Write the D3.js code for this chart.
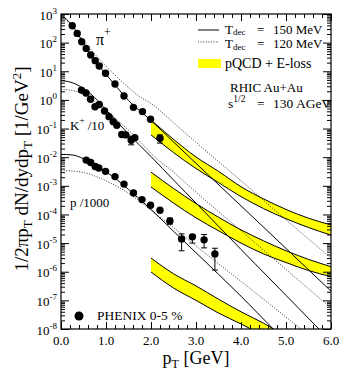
<!DOCTYPE html>
<html>
<head>
<meta charset="utf-8">
<script src="https://cdn.jsdelivr.net/npm/d3@7"></script>
<style>
body{margin:0;background:#fff;}
text{font-family:"Liberation Serif","DejaVu Serif",serif;fill:#000;}
</style>
</head>
<body>
<div id="graph"></div>
<script>
// PHENIX 0-5% data (pi+, K+/10, p/1000)
var pionPt=[0.25,0.36,0.46,0.56,0.66,0.76,0.85,0.99,1.2,1.4,1.61,1.81,1.99,2.2];
var pionY=[390,210,108,63,37,23.5,15.3,8.5,3.6,1.37,0.55,0.39,0.21,0.046];
var pionErr=[null,null,null,null,null,null,null,null,null,null,null,null,null,[0.031,0.06]];

var kaonPt=[0.455,0.556,0.656,0.756,0.85,0.967,1.067,1.16,1.24,1.35,1.44,1.56,1.64];
var kaonY=[2.2,1.75,1.05,0.58,0.69,0.41,0.26,0.174,0.13,0.062,0.06,0.039,0.048];
var kaonErr=[null,null,null,null,null,null,null,null,null,null,null,[0.027,0.052],null];

var protonPt=[0.56,0.66,0.76,0.84,0.99,1.2,1.4,1.61,1.8,1.99,2.2,2.42,2.68,2.92,3.18,3.42];
var protonY=[7.9e-3,6.5e-3,4.7e-3,4.2e-3,3.2e-3,2.1e-3,1.15e-3,5.6e-4,3.3e-4,2.1e-4,1.4e-4,5.9e-5,1.4e-5,1.65e-5,1.3e-5,4.2e-6];
var protonErr=[null,null,null,null,null,null,null,null,null,null,null,[4.6e-5,7.5e-5],[5.4e-6,2.1e-5],[1.0e-5,2.0e-5],[6.8e-6,2.0e-5],[1.14e-6,6.6e-6]];

// hydro curves, Tdec = 150 MeV (solid) and 120 MeV (dotted)
var curvePt=[0,0.25,0.5,0.75,1.0,1.25,1.5,1.75,2.0,2.5,3.0,4.0,5.0,6.0];
var pion150=[950,400,95,24,7.8,2.7,0.95,0.42,0.19,0.034,6.1e-3,2.0e-4,6.5e-6,2.1e-7];
var pion120=[850,370,115,40,15,6.2,2.7,1.3,0.75,0.16,0.033,1.5e-3,6.5e-5,3.0e-6];
var kaon150=[4.7,4.0,2.5,1.2,0.45,0.17,0.064,0.026,0.0105,1.6e-3,2.5e-4,6.0e-6,1.5e-7,3.7e-9];
var kaon120=[2.35,2.15,1.55,0.88,0.45,0.2,0.088,0.036,0.0135,3.0e-3,6.0e-4,2.7e-5,1.2e-6,5.4e-8];
var proton150=[0.0125,0.012,0.0088,0.0054,0.0031,0.0016,7.5e-4,3.4e-4,1.5e-4,2.6e-5,4.6e-6,1.4e-7,3.5e-9,1e-10];
var proton120=[3.4e-3,3.3e-3,2.9e-3,2.2e-3,1.5e-3,9.5e-4,5.5e-4,2.9e-4,1.4e-4,3.5e-5,8.0e-6,4.6e-7,2.6e-8,1.5e-9];

// pQCD + E-loss bands
var bandPt=[2.0,2.5,3.0,3.5,4.0,4.5,5.0,5.5,6.0];
var pionBandHi=[0.2,0.042,0.0102,3.2e-3,9.3e-4,3.5e-4,1.5e-4,7.4e-5,4.3e-5];
var pionBandLo=[0.06,0.0145,4.0e-3,1.3e-3,4.2e-4,1.6e-4,7.1e-5,3.5e-5,1.9e-5];
var kaonBandHi=[3.0e-3,8.1e-4,2.4e-4,8.0e-5,2.9e-5,1.2e-5,5.4e-6,2.7e-6,1.5e-6];
var kaonBandLo=[9.1e-4,2.5e-4,7.6e-5,2.7e-5,1.0e-5,4.2e-6,2.1e-6,1.1e-6,6.8e-7];
var protonBandHi=[3.0e-6,8.5e-7,3.2e-7,1.1e-7,4.0e-8,1.6e-8,5.6e-9,2.4e-9,1e-9];
var protonBandLo=[9.8e-7,2.7e-7,1.0e-7,3.6e-8,1.5e-8,6.0e-9,2.4e-9,1e-9,5e-10];

var xTicks=[0,1,2,3,4,5,6];
var yExps=[3,2,1,0,-1,-2,-3,-4,-5,-6,-7,-8];

var width=342,height=373;
var svg=d3.select('#graph').append('svg').attr('width',width).attr('height',height);

var x=d3.scaleLinear().domain([0,6]).range([61,331]);
var y=d3.scaleLog().domain([1e-8,1e3]).range([329,14]);

svg.append('clipPath').attr('id','plot').append('rect')
  .attr('x',61).attr('y',14).attr('width',270).attr('height',315);
var g=svg.append('g').attr('clip-path','url(#plot)');

function pairs(xs,ys){ return xs.map(function(v,i){ return [v,ys[i]]; }); }

// bands
var area=d3.area().x(function(d){return x(d[0]);}).y0(function(d){return y(d[1]);}).y1(function(d){return y(d[2]);}).curve(d3.curveMonotoneX);
var edge=d3.line().x(function(d){return x(d[0]);}).y(function(d){return y(d[1]);}).curve(d3.curveMonotoneX);
[[pionBandLo,pionBandHi],[kaonBandLo,kaonBandHi],[protonBandLo,protonBandHi]].forEach(function(b){
  var pts=bandPt.map(function(p,i){ return [p,b[0][i],b[1][i]]; });
  g.append('path').attr('d',area(pts)).attr('fill','#ffff00').attr('stroke','none');
  g.append('path').attr('d',edge(pairs(bandPt,b[0]))).attr('fill','none').attr('stroke','#000').attr('stroke-width',1);
  g.append('path').attr('d',edge(pairs(bandPt,b[1]))).attr('fill','none').attr('stroke','#000').attr('stroke-width',1);
});

// hydro curves
[pion150,kaon150,proton150].forEach(function(c){
  g.append('path').attr('d',edge(pairs(curvePt,c))).attr('fill','none').attr('stroke','#000').attr('stroke-width',1);
});
[pion120,kaon120,proton120].forEach(function(c){
  g.append('path').attr('d',edge(pairs(curvePt,c))).attr('fill','none').attr('stroke','#000').attr('stroke-width',0.8).attr('stroke-dasharray','1,1.6');
});

// data
[[pionPt,pionY,pionErr],[kaonPt,kaonY,kaonErr],[protonPt,protonY,protonErr]].forEach(function(s){
  s[0].forEach(function(p,i){
    var e=s[2][i];
    if(e){
      g.append('line').attr('x1',x(p)).attr('x2',x(p)).attr('y1',y(e[0])).attr('y2',y(e[1])).attr('stroke','#000');
      [e[0],e[1]].forEach(function(v){
        g.append('line').attr('x1',x(p)-3).attr('x2',x(p)+3).attr('y1',y(v)).attr('y2',y(v)).attr('stroke','#000');
      });
    }
    g.append('circle').attr('cx',x(p)).attr('cy',y(s[1][i])).attr('r',3.7).attr('fill','#000');
  });
});

// axes
var minorX=d3.range(0,6.01,0.2);
var minorY=[];
for(var k=-8;k<3;k++){ for(var m=2;m<10;m++){ minorY.push(m*Math.pow(10,k)); } }
var majorY=yExps.map(function(e){ return Math.pow(10,e); });

function tickAxis(axis,pos,vals,size){
  var a=svg.append('g').attr('transform',pos).call(axis.tickValues(vals).tickSize(size).tickFormat(''));
  a.select('.domain').remove();
  a.selectAll('line').attr('stroke','#000');
  return a;
}
tickAxis(d3.axisBottom(x),'translate(0,329)',xTicks,-7);
tickAxis(d3.axisBottom(x),'translate(0,329)',minorX,-4);
tickAxis(d3.axisTop(x),'translate(0,14)',xTicks,-7);
tickAxis(d3.axisTop(x),'translate(0,14)',minorX,-4);
tickAxis(d3.axisLeft(y),'translate(61,0)',majorY,-8);
tickAxis(d3.axisLeft(y),'translate(61,0)',minorY,-4);
tickAxis(d3.axisRight(y),'translate(331,0)',majorY,-8);
tickAxis(d3.axisRight(y),'translate(331,0)',minorY,-4);
svg.append('rect').attr('x',61).attr('y',14).attr('width',270).attr('height',315)
  .attr('fill','none').attr('stroke','#000').attr('stroke-width',1.2);

// tick labels
xTicks.forEach(function(t){
  svg.append('text').attr('x',x(t)).attr('y',345).attr('text-anchor','middle')
    .style('font-size','13px').text(t.toFixed(1));
});
yExps.forEach(function(e){
  var t=svg.append('text').attr('x',57).attr('y',y(Math.pow(10,e))+5.5).attr('text-anchor','end').style('font-size','13px');
  t.append('tspan').text('10');
  t.append('tspan').attr('dy',-6).style('font-size','9px').text(e);
});

// axis titles
var yl=svg.append('text').attr('transform','translate(28,169) rotate(-90)').attr('text-anchor','middle').style('font-size','19px');
yl.append('tspan').text('1/2πp');
yl.append('tspan').attr('dy',4).style('font-size','13px').text('T');
yl.append('tspan').attr('dy',-4).text(' dN/dydp');
yl.append('tspan').attr('dy',4).style('font-size','13px').text('T');
yl.append('tspan').attr('dy',-4).text(' [1/GeV');
yl.append('tspan').attr('dy',-7).style('font-size','13px').text('2');
yl.append('tspan').attr('dy',7).text(']');

var xl=svg.append('text').attr('x',196).attr('y',364).attr('text-anchor','middle').style('font-size','18px');
xl.append('tspan').text('p');
xl.append('tspan').attr('dy',4).style('font-size','12px').text('T');
xl.append('tspan').attr('dy',-4).text(' [GeV]');

// species labels
var pl=svg.append('text').attr('x',96).attr('y',45).style('font-size','16px');
pl.append('tspan').text('π');
pl.append('tspan').attr('dy',-9).style('font-size','12px').text('+');
var kl=svg.append('text').attr('x',70).attr('y',130).style('font-size','13px');
kl.append('tspan').text('K');
kl.append('tspan').attr('dy',-7).style('font-size','9px').text('+');
kl.append('tspan').attr('dy',7).text(' /10');
svg.append('text').attr('x',70).attr('y',207).style('font-size','13px').text('p /1000');

// legend
svg.append('line').attr('x1',198).attr('x2',219).attr('y1',30).attr('y2',30).attr('stroke','#000');
svg.append('line').attr('x1',198).attr('x2',219).attr('y1',42).attr('y2',42).attr('stroke','#000').attr('stroke-width',0.8).attr('stroke-dasharray','1,1.6');
svg.append('rect').attr('x',198).attr('y',59).attr('width',23).attr('height',9).attr('fill','#ffff00');
[['150',33.5],['120',48]].forEach(function(r){
  var t=svg.append('text').attr('x',225).attr('y',r[1]).style('font-size','13px');
  t.append('tspan').text('T');
  t.append('tspan').attr('dy',1.5).style('font-size','9px').text('dec');
  t.append('tspan').attr('x',257).attr('dy',-1.5).text('=');
  t.append('tspan').attr('x',273).text(r[0]+' MeV');
});
svg.append('text').attr('x',225).attr('y',68).style('font-size','14px').text('pQCD + E-loss');
svg.append('text').attr('x',230).attr('y',92).style('font-size','13px').text('RHIC Au+Au');
var st=svg.append('text').attr('x',228).attr('y',108).style('font-size','13.5px');
st.append('tspan').text('s');
st.append('tspan').attr('dy',-6).style('font-size','9.5px').text('1/2');
st.append('tspan').attr('x',257).attr('dy',6).text('=');
st.append('tspan').attr('x',273).text('130 AGeV');

svg.append('circle').attr('cx',79).attr('cy',316).attr('r',4.5).attr('fill','#000');
svg.append('text').attr('x',97).attr('y',320).style('font-size','13.5px').text('PHENIX 0-5 %');
</script>
</body>
</html>
